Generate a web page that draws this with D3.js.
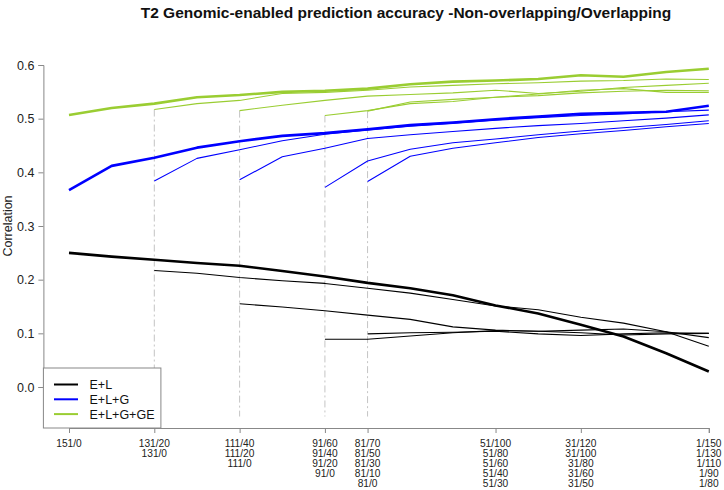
<!DOCTYPE html>
<html><head><meta charset="utf-8">
<script src="https://cdn.jsdelivr.net/npm/d3@7"></script>
<style>body{margin:0;background:#fff}svg{display:block;font-family:"Liberation Sans",Arial,sans-serif}</style>
</head><body>
<svg id="c" width="724" height="490"></svg>
<script>
// ---- data ----
const title = "T2 Genomic-enabled prediction accuracy -Non-overlapping/Overlapping";
const trainSizes = [151,141,131,121,111,101,91,81,71,61,51,41,31,21,11,1];
const startSizes = [151,131,111,91,81];
const xTickPos = [151,131,111,91,81,51,31,1];
const xTickLabels = [
  ["151/0"],
  ["131/20","131/0"],
  ["111/40","111/20","111/0"],
  ["91/60","91/40","91/20","91/0"],
  ["81/70","81/50","81/30","81/10","81/0"],
  ["51/100","51/80","51/60","51/40","51/30"],
  ["31/120","31/100","31/80","31/60","31/50"],
  ["1/150","1/130","1/110","1/90","1/80"]
];
const yTicks = [0,0.1,0.2,0.3,0.4,0.5,0.6];

// E+L
const EL_151 = [0.250,0.243,0.237,0.231,0.226,0.216,0.206,0.194,0.184,0.171,0.152,0.137,0.116,0.094,0.063,0.029];
const EL_131 = [0.217,0.212,0.204,0.198,0.193,0.184,0.175,0.163,0.151,0.144,0.130,0.119,0.103,0.076];
const EL_111 = [0.155,0.149,0.142,0.134,0.126,0.112,0.106,0.104,0.101,0.097,0.099,0.100];
const EL_91  = [0.089,0.089,0.095,0.101,0.105,0.104,0.106,0.108,0.103,0.092];
const EL_81  = [0.099,0.101,0.102,0.104,0.099,0.096,0.099,0.101,0.100];
// E+L+G
const ELG_151 = [0.367,0.412,0.427,0.446,0.458,0.468,0.473,0.480,0.488,0.493,0.499,0.504,0.509,0.511,0.513,0.524];
const ELG_131 = [0.384,0.426,0.442,0.459,0.471,0.479,0.486,0.491,0.497,0.502,0.506,0.509,0.513,0.516];
const ELG_111 = [0.386,0.429,0.445,0.463,0.470,0.476,0.482,0.487,0.491,0.496,0.501,0.507];
const ELG_91  = [0.372,0.421,0.443,0.455,0.462,0.470,0.477,0.483,0.489,0.496];
const ELG_81  = [0.383,0.430,0.445,0.455,0.465,0.472,0.478,0.485,0.491];
// E+L+G+GE
const ELGGE_151 = [0.507,0.520,0.528,0.540,0.544,0.550,0.552,0.556,0.564,0.569,0.571,0.574,0.581,0.578,0.587,0.593];
const ELGGE_131 = [0.517,0.528,0.534,0.547,0.549,0.553,0.559,0.562,0.565,0.567,0.570,0.571,0.574,0.573];
const ELGGE_111 = [0.515,0.525,0.534,0.542,0.545,0.548,0.553,0.547,0.551,0.558,0.562,0.566];
const ELGGE_91  = [0.506,0.515,0.528,0.532,0.540,0.546,0.553,0.556,0.549,0.549,0.561];
const ELGGE_81  = [0.514,0.531,0.536,0.540,0.543,0.548,0.551,0.553,0.552];

const groups = [
  {name:"E+L", color:"#000000", series:[EL_151,EL_131,EL_111,EL_91,EL_81]},
  {name:"E+L+G", color:"#0000ff", series:[ELG_151,ELG_131,ELG_111,ELG_91,ELG_81]},
  {name:"E+L+G+GE", color:"#9acd32", series:[ELGGE_151,ELGGE_131,ELGGE_111,ELGGE_91,ELGGE_81]}
];

// ---- drawing ----
const svg = d3.select("#c");
const x = d3.scaleLinear().domain([151,1]).range([69,708.8]);
const y = d3.scaleLinear().domain([0,0.6]).range([387,65]);
const axisY = 428, axisX = 43.4;

svg.append("text").attr("x",406).attr("y",17.5).attr("text-anchor","middle")
  .attr("font-size",15.5).attr("font-weight","bold").attr("fill","#111").text(title);

// vertical dash-dot guides
startSizes.slice(1).forEach((s,k)=>{
  const top = groups[2].series[k+1][0];
  svg.append("line").attr("x1",x(s)).attr("x2",x(s))
    .attr("y1",y(top)).attr("y2",y(-0.055))
    .attr("stroke","#c4c4c4").attr("stroke-width",1).attr("stroke-dasharray","7,3,2,3");
});

// lines
const line = d3.line().x(d=>x(d[0])).y(d=>y(d[1]));
groups.forEach(g=>{
  g.series.forEach((vals,k)=>{
    const off = trainSizes.indexOf(startSizes[k]);
    const pts = vals.map((v,j)=>[trainSizes[off+j],v]);
    svg.append("path").attr("d",line(pts)).attr("fill","none")
      .attr("stroke",g.color).attr("stroke-width",k===0?2.6:1.1)
      .attr("stroke-linejoin","round");
  });
});

// y axis
const ya = svg.append("g").attr("transform",`translate(${axisX},0)`)
  .call(d3.axisLeft(y).tickValues(yTicks).tickFormat(d3.format(".1f")).tickSizeOuter(0).tickSize(5).tickPadding(4));
ya.select(".domain").attr("stroke","#888");
ya.selectAll(".tick line").attr("stroke","#888");
ya.selectAll(".tick text").attr("font-size",12.5).attr("fill","#222").attr("font-family","Liberation Sans, Arial, sans-serif");

svg.append("text").attr("transform","translate(12,226) rotate(-90)").attr("text-anchor","middle")
  .attr("font-size",12.5).attr("fill","#222").text("Correlation");

// x axis
const xa = svg.append("g").attr("transform",`translate(0,${axisY})`)
  .call(d3.axisBottom(x).tickValues(xTickPos).tickFormat("").tickSizeOuter(0).tickSize(5));
xa.select(".domain").attr("stroke","#888");
xa.selectAll(".tick line").attr("stroke","#888");
xTickPos.forEach((p,i)=>{
  xTickLabels[i].forEach((lab,j)=>{
    svg.append("text").attr("x",x(p)).attr("y",446.5+j*10).attr("text-anchor","middle")
      .attr("font-size",10.2).attr("fill","#222").text(lab);
  });
});

// legend
const lg = svg.append("g");
lg.append("rect").attr("x",axisX).attr("y",368).attr("width",117.5).attr("height",60)
  .attr("fill","#fff").attr("stroke","#888").attr("stroke-width",1);
groups.forEach((g,i)=>{
  const ly = 384.5 + i*14.8;
  lg.append("line").attr("x1",54).attr("x2",78).attr("y1",ly).attr("y2",ly)
    .attr("stroke",g.color).attr("stroke-width",2);
  lg.append("text").attr("x",89.5).attr("y",ly+4.5).attr("font-size",12.5).attr("fill","#111").text(g.name);
});
</script>
</body></html>
